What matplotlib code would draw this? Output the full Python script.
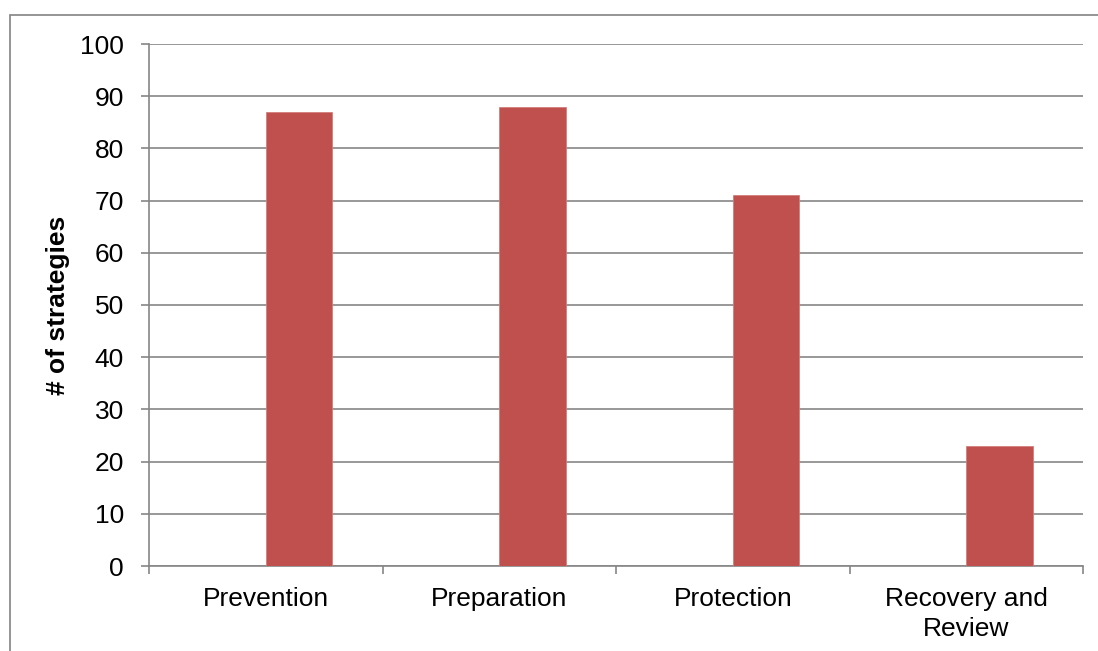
import numpy as np
import matplotlib
matplotlib.use("Agg")
import matplotlib.pyplot as plt
from matplotlib.patches import Rectangle

categories = ["Prevention", "Preparation", "Protection", "Recovery and\nReview"]
strategy_counts = [87, 88, 71, 23]
y_ticks = list(range(0, 101, 10))

plt.rcParams["font.family"] = ["Liberation Sans", "DejaVu Sans"]

BAR_COLOR = "#C0504D"
GRID_COLOR = "#868686"
FONT_SIZE = 19

fig = plt.figure(figsize=(10.98, 6.51), dpi=100)
W, H = 1098, 651
ax = fig.add_axes([149 / W, 1 - 566 / H, (1083 - 149) / W, (566 - 44) / H])

# chart border around the whole figure area
fig.add_artist(Rectangle((10 / W, -0.1), 1.2, 1 - 15 / H + 0.1,
                         transform=fig.transFigure, fill=False,
                         edgecolor="#8c8c8c", linewidth=1.3))

x = np.arange(len(categories))
# bars sit in the right half of each category slot
ax.bar(x, strategy_counts, width=0.285, align="edge", color=BAR_COLOR,
       edgecolor="#d27e7b", linewidth=0.6, zorder=3)

ax.set_xlim(-0.5, len(categories) - 0.5)
ax.set_ylim(0, 100)
ax.set_yticks(y_ticks)
ax.set_yticklabels([str(t) for t in y_ticks], fontsize=FONT_SIZE)
ax.yaxis.grid(True, color=GRID_COLOR, linewidth=1.2, zorder=0)
ax.set_axisbelow(True)

ax.set_xticks(x)
ax.set_xticklabels(categories, fontsize=FONT_SIZE, linespacing=1.32)
ax.set_xticks(np.arange(len(categories) + 1) - 0.5, minor=True)
ax.tick_params(axis="x", which="major", length=0, pad=15)
ax.tick_params(axis="x", which="minor", length=6, width=1.2, color=GRID_COLOR)
ax.tick_params(axis="y", length=6, width=1.2, color=GRID_COLOR, pad=12)

for side in ("top", "right"):
    ax.spines[side].set_visible(False)
for side in ("left", "bottom"):
    ax.spines[side].set_color(GRID_COLOR)
    ax.spines[side].set_linewidth(1.2)

ax.set_ylabel("# of strategies", fontsize=FONT_SIZE, fontweight="bold", va="center")
ax.yaxis.set_label_coords((58 - 149) / (1083 - 149), 0.5)

fig.savefig("out.png", dpi=100, facecolor="white")
